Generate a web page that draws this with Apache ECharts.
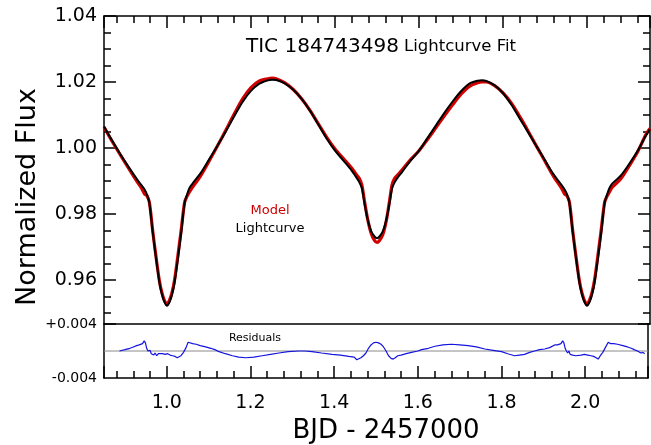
<!DOCTYPE html>
<html>
<head>
<meta charset="utf-8">
<script src="https://cdn.jsdelivr.net/npm/echarts@6/dist/echarts.min.js"></script>
<style>
  html, body { margin: 0; padding: 0; background: #fff; }
  #chart { width: 651px; height: 445px; }
</style>
</head>
<body>
<div id="chart"></div>
<script>
// Time axis (BJD - 2457000) shared by the light curve and the model fit
const bjd = [
  0.85, 0.87, 0.89, 0.91, 0.93, 0.94,
  0.947, 0.952, 0.958, 0.966, 0.974, 0.982, 0.988, 0.994, 1.000, 1.006, 1.012, 1.018, 1.026, 1.034, 1.042, 1.048, 1.053,
  1.06, 1.08, 1.10, 1.12, 1.14, 1.16, 1.18, 1.20, 1.22, 1.24, 1.25, 1.26, 1.28, 1.30, 1.32, 1.34, 1.36, 1.38, 1.40, 1.42, 1.44,
  1.452, 1.458, 1.464, 1.470, 1.478, 1.486, 1.494, 1.500, 1.506, 1.514, 1.522, 1.530, 1.536, 1.542, 1.55,
  1.56, 1.58, 1.60, 1.62, 1.64, 1.66, 1.68, 1.70, 1.72, 1.74, 1.75, 1.76, 1.78, 1.80, 1.82, 1.84, 1.86, 1.88, 1.90, 1.92, 1.94,
  1.947, 1.952, 1.958, 1.966, 1.974, 1.982, 1.988, 1.994, 2.000, 2.006, 2.012, 2.018, 2.026, 2.034, 2.042, 2.048, 2.053,
  2.06, 2.08, 2.10, 2.12, 2.14, 2.15
];

// Observed normalized flux
const lightcurve = [
  1.0065, 1.0021, 0.9979, 0.9940, 0.9903, 0.9886,
  0.9874, 0.9860, 0.9834, 0.9745, 0.9665, 0.9592, 0.9556, 0.9533, 0.9522, 0.9533, 0.9556, 0.9592, 0.9665, 0.9745, 0.9834, 0.9860, 0.9878,
  0.9891, 0.9924, 0.9965, 1.0007, 1.0050, 1.0096, 1.0140, 1.0173, 1.0195, 1.0205, 1.0207, 1.0206, 1.0196, 1.0177, 1.0150, 1.0114, 1.0072, 1.0029, 0.9992, 0.9962, 0.9931,
  0.9909, 0.9896, 0.9878, 0.9834, 0.9782, 0.9748, 0.9732, 0.9727, 0.9732, 0.9748, 0.9782, 0.9834, 0.9878, 0.9896, 0.9912,
  0.9928, 0.9962, 0.9992, 1.0030, 1.0068, 1.0106, 1.0141, 1.0172, 1.0195, 1.0204, 1.0205, 1.0203, 1.0190, 1.0166, 1.0131, 1.0089, 1.0047, 1.0005, 0.9963, 0.9921, 0.9887,
  0.9874, 0.9861, 0.9834, 0.9745, 0.9665, 0.9592, 0.9556, 0.9533, 0.9522, 0.9533, 0.9556, 0.9592, 0.9665, 0.9745, 0.9834, 0.9860, 0.9878,
  0.9892, 0.9916, 0.9951, 0.9990, 1.0037, 1.0057
];

// Binary model fit
const model = [
  1.0064, 1.0019, 0.9977, 0.9936, 0.9896, 0.9877,
  0.9860, 0.9856, 0.9836, 0.9749, 0.9669, 0.9597, 0.9561, 0.9538, 0.9527, 0.9539, 0.9563, 0.9600, 0.9675, 0.9754, 0.9836, 0.9855, 0.9866,
  0.9880, 0.9916, 0.9960, 1.0006, 1.0054, 1.0103, 1.0149, 1.0183, 1.0203, 1.0210, 1.0212, 1.0210, 1.0198, 1.0178, 1.0150, 1.0115, 1.0074, 1.0033, 0.9997, 0.9968, 0.9939,
  0.9918, 0.9908, 0.9888, 0.9841, 0.9783, 0.9742, 0.9720, 0.9714, 0.9720, 0.9738, 0.9779, 0.9841, 0.9889, 0.9908, 0.9920,
  0.9934, 0.9965, 0.9992, 1.0026, 1.0061, 1.0097, 1.0131, 1.0163, 1.0187, 1.0198, 1.0200, 1.0200, 1.0189, 1.0167, 1.0136, 1.0095, 1.0051, 1.0005, 0.9960, 0.9915, 0.9877,
  0.9860, 0.9856, 0.9837, 0.9749, 0.9669, 0.9597, 0.9561, 0.9538, 0.9527, 0.9539, 0.9563, 0.9600, 0.9675, 0.9754, 0.9836, 0.9855, 0.9866,
  0.9881, 0.9906, 0.9945, 0.9987, 1.0040, 1.0059
];

// Residuals (lightcurve - model)
const residBjd = [
  0.887, 0.900, 0.912, 0.920, 0.928, 0.934, 0.938, 0.942, 0.946, 0.949,
  0.952, 0.955, 0.958, 0.960, 0.963, 0.966, 0.969, 0.972, 0.976, 0.980,
  0.984, 0.990, 0.996, 1.002, 1.008, 1.014, 1.020, 1.025, 1.029, 1.034,
  1.040, 1.046, 1.051, 1.055, 1.062, 1.070, 1.080, 1.093, 1.105, 1.115,
  1.125, 1.140, 1.157, 1.172, 1.189, 1.208, 1.228, 1.248, 1.268, 1.290,
  1.315, 1.330, 1.347, 1.370, 1.395, 1.415, 1.435, 1.448, 1.454, 1.458,
  1.464, 1.470, 1.476, 1.482, 1.488, 1.494, 1.500, 1.506, 1.512, 1.518,
  1.524, 1.530, 1.536, 1.541, 1.546, 1.552, 1.560, 1.572, 1.585, 1.600,
  1.609, 1.625, 1.641, 1.660, 1.680, 1.700, 1.720, 1.740, 1.760, 1.780,
  1.800, 1.815, 1.831, 1.843, 1.855, 1.867, 1.879, 1.891, 1.903, 1.915,
  1.927, 1.934, 1.938, 1.942, 1.946, 1.949, 1.952, 1.955, 1.958, 1.961,
  1.964, 1.967, 1.970, 1.974, 1.978, 1.982, 1.990, 1.998, 2.006, 2.014,
  2.020, 2.026, 2.031, 2.036, 2.042, 2.048, 2.055, 2.060, 2.068, 2.077,
  2.090, 2.101, 2.110, 2.117, 2.125, 2.133, 2.138, 2.142
];
const residuals = [
  0.0000, 0.0002, 0.0004, 0.0006, 0.0008, 0.0009, 0.0008, 0.0011, 0.0015, 0.0012,
  0.0004, 0.0000, -0.0002, 0.0001, -0.0004, -0.0002, -0.0006, -0.0003, -0.0007, -0.0004,
  -0.0006, -0.0004, -0.0005, -0.0004, -0.0006, -0.0007, -0.0008, -0.0010, -0.0012, -0.0007,
  -0.0002, 0.0005, 0.0013, 0.0011, 0.0011, 0.0010, 0.0008, 0.0006, 0.0004, 0.0002,
  -0.0001, -0.0004, -0.0007, -0.0009, -0.0010, -0.0009, -0.0007, -0.0005, -0.0003, -0.0001,
  0.0000, 0.0000, -0.0001, -0.0003, -0.0005, -0.0006, -0.0008, -0.0009, -0.0013, -0.0012,
  -0.0010, -0.0007, -0.0003, 0.0004, 0.0009, 0.0012, 0.0013, 0.0012, 0.0010, 0.0006,
  0.0000, -0.0007, -0.0011, -0.0012, -0.0010, -0.0007, -0.0006, -0.0004, -0.0002, 0.0000,
  0.0002, 0.0004, 0.0007, 0.0009, 0.0010, 0.0009, 0.0008, 0.0006, 0.0003, 0.0001,
  -0.0001, -0.0004, -0.0007, -0.0006, -0.0005, -0.0002, 0.0000, 0.0002, 0.0003, 0.0005,
  0.0009, 0.0009, 0.0008, 0.0011, 0.0015, 0.0012, 0.0004, 0.0000, -0.0003, 0.0000,
  -0.0005, -0.0003, -0.0006, -0.0004, -0.0007, -0.0005, -0.0006, -0.0005, -0.0006, -0.0007,
  -0.0008, -0.0010, -0.0012, -0.0007, -0.0002, 0.0005, 0.0013, 0.0011, 0.0011, 0.0010,
  0.0008, 0.0006, 0.0004, 0.0002, 0.0000, -0.0003, -0.0002, -0.0004
];

// Axis extents and tick labels
const timeRange = [0.85, 2.15];
const fluxRange = [0.9467, 1.04];
const residRange = [-0.004, 0.004];
const residBaseline = 0;
const timeTickLabels = ['1.0', '1.2', '1.4', '1.6', '1.8', '2.0'];
const fluxTickLabels = ['0.96', '0.98', '1.00', '1.02', '1.04'];
const residTickLabels = ['-0.004', '', '+0.004'];

const FONT = 'DejaVu Sans';
const INK = '#000';
const zip = (xs, ys) => xs.slice(0, Math.min(xs.length, ys.length)).map((x, i) => [x, ys[i]]);

// Evenly spaced label slots spanning an axis extent; only tick positions carry text
function labelSlots(range, step, labels, digits) {
  const n = Math.round((range[1] - range[0]) / step);
  const byKey = {};
  labels.forEach(t => { byKey[parseFloat(t).toFixed(digits)] = t; });
  const slots = [];
  for (let i = 0; i <= n; i++) {
    const key = (range[0] + i * step).toFixed(digits);
    slots.push(byKey[key] || '');
  }
  return slots;
}
const timeSlots = labelSlots(timeRange, 0.01, timeTickLabels, 2);
const fluxSlots = labelSlots(fluxRange, 0.0001, fluxTickLabels, 4);

const boxLine = () => ({ show: true, onZero: false, lineStyle: { color: INK, width: 1.5 } });
const majorTick = () => ({ show: true, inside: true, length: 12, lineStyle: { color: INK, width: 1.5 } });
const minorTick = (n) => ({ show: true, splitNumber: n, length: 7, lineStyle: { color: INK, width: 1.5 } });
const hidden = { show: false };

function timeAxis(extra) {
  return Object.assign({
    type: 'value', min: timeRange[0], max: timeRange[1],
    minInterval: 0.2, maxInterval: 0.2, splitNumber: 6,
    splitLine: hidden, axisLine: boxLine(), axisLabel: { show: false }
  }, extra);
}
function fluxAxis(extra) {
  return Object.assign({
    type: 'value', min: fluxRange[0], max: fluxRange[1],
    minInterval: 0.02, maxInterval: 0.02, splitNumber: 5,
    splitLine: hidden, axisLine: boxLine(), axisLabel: { show: false }
  }, extra);
}
function residAxis(extra) {
  return Object.assign({
    type: 'value', min: residRange[0], max: residRange[1], interval: 0.004,
    splitLine: hidden, axisLine: boxLine(), axisTick: { show: false }, axisLabel: { show: false }
  }, extra);
}
// label-only axis laid over a value axis
function labelAxis(gridIndex, position, data, fontSize, margin) {
  return {
    type: 'category', gridIndex, position, data, boundaryGap: false,
    axisLine: { show: false }, axisTick: { show: false }, splitLine: hidden,
    axisLabel: { show: true, interval: 0, margin, color: INK, fontFamily: FONT, fontSize }
  };
}

const chart = echarts.init(document.getElementById('chart'));
chart.setOption({
  animation: false,
  title: {
    text: '{a|TIC 184743498} {b|Lightcurve Fit}',
    left: 246, top: 37, padding: 0,
    textStyle: {
      fontFamily: FONT, fontSize: 16, color: INK, fontWeight: 'normal',
      rich: {
        a: { fontFamily: FONT, fontSize: 20, color: INK },
        b: { fontFamily: FONT, fontSize: 16.5, color: INK }
      }
    }
  },
  grid: [
    { left: 104, top: 16, width: 546, height: 308 },
    { left: 104, top: 324, width: 546, height: 54 }
  ],
  xAxis: [
    timeAxis({ gridIndex: 0, position: 'bottom', axisTick: { show: false } }),
    timeAxis({ gridIndex: 0, position: 'top', axisTick: majorTick(), minorTick: minorTick(5) }),
    timeAxis({ gridIndex: 1, position: 'bottom', axisTick: majorTick(), minorTick: minorTick(5) }),
    labelAxis(1, 'bottom', timeSlots, 19, 16)
  ],
  yAxis: [
    fluxAxis({ gridIndex: 0, position: 'left', axisTick: majorTick(), minorTick: minorTick(4) }),
    fluxAxis({ gridIndex: 0, position: 'right', axisTick: majorTick(), minorTick: minorTick(4) }),
    residAxis({ gridIndex: 1, position: 'left' }),
    residAxis({ gridIndex: 1, position: 'right' }),
    labelAxis(0, 'left', fluxSlots, 19, 7),
    labelAxis(1, 'left', residTickLabels, 14, 7)
  ],
  series: [
    {
      name: 'Model', type: 'line', xAxisIndex: 0, yAxisIndex: 0,
      data: zip(bjd, model), showSymbol: false, smooth: 0.3,
      lineStyle: { color: '#d10000', width: 3.2 }, itemStyle: { color: '#d10000' }
    },
    {
      name: 'Lightcurve', type: 'line', xAxisIndex: 0, yAxisIndex: 0,
      data: zip(bjd, lightcurve), showSymbol: false, smooth: 0.3,
      lineStyle: { color: '#000', width: 2 }, itemStyle: { color: '#000' }
    },
    {
      name: 'Zero', type: 'line', xAxisIndex: 2, yAxisIndex: 2,
      data: [[timeRange[0], residBaseline], [timeRange[1], residBaseline]], showSymbol: false,
      lineStyle: { color: '#8a8a8a', width: 1 }, itemStyle: { color: '#8a8a8a' }
    },
    {
      name: 'Residuals', type: 'line', xAxisIndex: 2, yAxisIndex: 2,
      data: zip(residBjd, residuals), showSymbol: false,
      lineStyle: { color: '#1414e0', width: 1.2 }, itemStyle: { color: '#1414e0' }
    }
  ],
  graphic: [
    {
      type: 'text', x: 28, y: 197, rotation: Math.PI / 2,
      style: { text: 'Normalized Flux', fill: INK, font: '27px "DejaVu Sans"', align: 'center', verticalAlign: 'middle' }
    },
    {
      type: 'text', x: 386, y: 431,
      style: { text: 'BJD - 2457000', fill: INK, font: '26px "DejaVu Sans"', align: 'center', verticalAlign: 'middle' }
    },
    {
      type: 'text', x: 270, y: 211,
      style: { text: 'Model', fill: '#cc0000', font: '13px "DejaVu Sans"', align: 'center', verticalAlign: 'middle' }
    },
    {
      type: 'text', x: 270, y: 229,
      style: { text: 'Lightcurve', fill: INK, font: '13px "DejaVu Sans"', align: 'center', verticalAlign: 'middle' }
    },
    {
      type: 'text', x: 255, y: 338,
      style: { text: 'Residuals', fill: INK, font: '11px "DejaVu Sans"', align: 'center', verticalAlign: 'middle' }
    }
  ]
});
</script>
</body>
</html>
